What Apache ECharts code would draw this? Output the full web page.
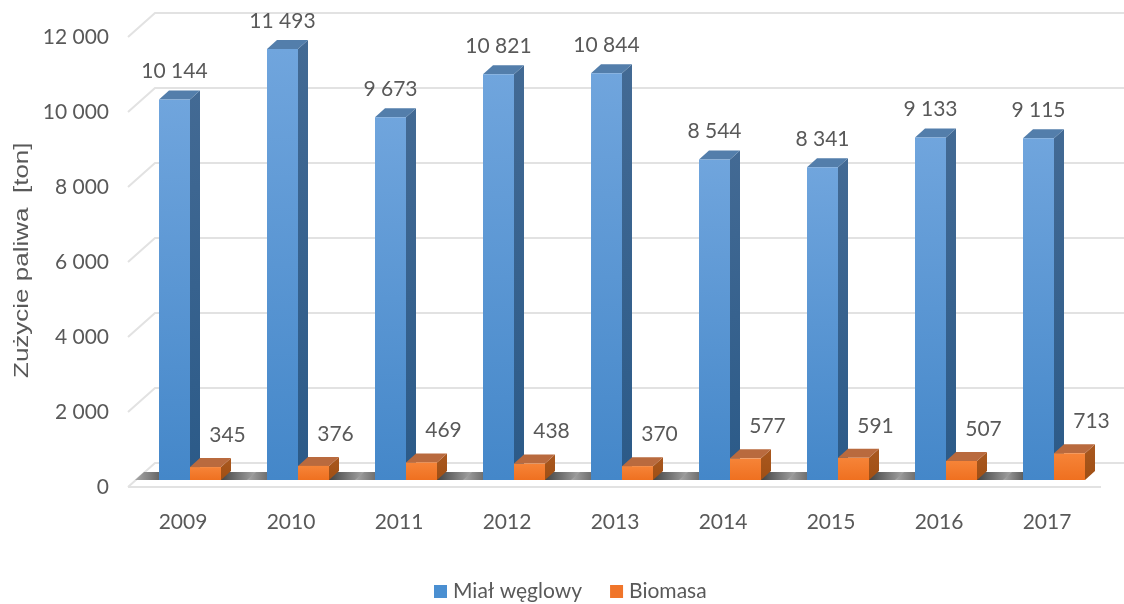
<!DOCTYPE html>
<html>
<head>
<meta charset="utf-8">
<style>
html, body { margin: 0; padding: 0; background: #fff; }
#chart { width: 1124px; height: 604px; }
</style>
<script src="https://cdn.jsdelivr.net/npm/echarts@6/dist/echarts.min.js"></script>
</head>
<body>
<div id="chart"></div>
<script>
const years = ['2009', '2010', '2011', '2012', '2013', '2014', '2015', '2016', '2017'];
const coal = [10144, 11493, 9673, 10821, 10844, 8544, 8341, 9133, 9115];
const biomass = [345, 376, 469, 438, 370, 577, 591, 507, 713];
const yTicks = [0, 2000, 4000, 6000, 8000, 10000, 12000];

const FONT = 'Lato, "Noto Sans", sans-serif';
const TEXT = '#595959';

function fmt(v) {
    return String(v).replace(/\B(?=(\d{3})+$)/g, ' ');
}

function vGrad(a, b) {
    return new echarts.graphic.LinearGradient(0, 0, 0, 1, [
        { offset: 0, color: a },
        { offset: 1, color: b }
    ]);
}

// skewed grid lines, floor included
function renderGridLine(params, api) {
    const r = params.coordSys;
    const y = api.coord([0, api.value(0)])[1];
    const left = r.x - 1;
    const right = r.x + r.width;
    const style = { stroke: '#e2e2e2', lineWidth: 2, fill: null };
    const children = [{
        type: 'polyline',
        shape: { points: [[left, y], [left + 27, y - 24], [right + 27, y - 24]] },
        style: style
    }];
    if (api.value(0) === 0) {
        children.push({
            type: 'line',
            shape: { x1: left, y1: y, x2: right, y2: y },
            style: style
        });
    }
    return { type: 'group', children: children };
}

// dark shadow under the bars
function renderFloor(params, api) {
    const i = api.value(0);
    const c = api.coord([i, 0]);
    const y = c[1] - 7;
    let x0 = c[0] - 44;
    let x1 = c[0] + 65;
    if (i === 0) x0 = c[0] - 48;
    if (i === years.length - 1) x1 = c[0] + 37;
    return {
        type: 'polygon',
        shape: { points: [[x0, y], [x1, y], [x1 + 9, y - 8], [x0 + 9, y - 8]] },
        style: {
            fill: new echarts.graphic.LinearGradient(0, 0, 1, 0, [
                { offset: 0, color: '#a8a8a8' },
                { offset: 0.3, color: '#454545' },
                { offset: 0.7, color: '#454545' },
                { offset: 1, color: '#a8a8a8' }
            ])
        }
    };
}

function makeBar(shift, colors, labelDx, labelDy) {
    return function (params, api) {
        const top = api.coord([api.value(0), api.value(1)]);
        const base = api.coord([api.value(0), 0]);
        const w = 31, dx = 10, dy = 9;
        const x = base[0] + shift;
        const y0 = base[1] - 7;
        const y1 = top[1] - 7;
        return {
            type: 'group',
            children: [
                {
                    type: 'polygon',
                    shape: { points: [[x + w, y0], [x + w, y1], [x + w + dx, y1 - dy], [x + w + dx, y0 - dy]] },
                    style: { fill: vGrad(colors.side[0], colors.side[1]) }
                },
                {
                    type: 'polygon',
                    shape: { points: [[x, y1], [x + w, y1], [x + w + dx, y1 - dy], [x + dx, y1 - dy]] },
                    style: { fill: colors.top }
                },
                {
                    type: 'rect',
                    shape: { x: x, y: y1, width: w, height: y0 - y1 },
                    style: { fill: vGrad(colors.front[0], colors.front[1]) }
                },
                {
                    type: 'text',
                    style: {
                        text: fmt(api.value(1)),
                        x: x + w / 2 + labelDx,
                        y: y1 - dy + labelDy,
                        align: 'center',
                        verticalAlign: 'middle',
                        fill: TEXT,
                        font: '21px ' + FONT
                    }
                }
            ]
        };
    };
}

const chart = echarts.init(document.getElementById('chart'));
chart.setOption({
    backgroundColor: '#fff',
    animation: false,
    grid: { left: 129, right: 23, top: 37, bottom: 117 },
    legend: {
        data: ['Miał węglowy', 'Biomasa'],
        left: 429,
        top: 576,
        icon: 'rect',
        itemWidth: 13,
        itemHeight: 13,
        itemGap: 28,
        textStyle: { color: TEXT, fontSize: 21, fontFamily: FONT, padding: [0, 0, 0, 1] }
    },
    xAxis: {
        type: 'category',
        data: years,
        axisLine: { show: false },
        axisTick: { show: false },
        axisLabel: { color: TEXT, fontSize: 21, fontFamily: FONT, margin: 25 }
    },
    yAxis: {
        type: 'value',
        min: 0,
        max: 12000,
        interval: 2000,
        axisLine: { show: false },
        axisTick: { show: false },
        splitLine: { show: false },
        axisLabel: { color: TEXT, fontSize: 21, fontFamily: FONT, margin: 20, padding: [2, 0, 0, 0], formatter: fmt }
    },
    graphic: [{
        type: 'text',
        x: 12,
        y: 378,
        rotation: Math.PI / 2,
        scaleX: 1.3,
        style: {
            text: 'Zużycie paliwa  [ton]',
            fill: TEXT,
            font: '20px "Liberation Sans", sans-serif',
            verticalAlign: 'top'
        }
    }],
    series: [
        {
            type: 'custom',
            silent: true,
            data: yTicks.map(v => [v]),
            encode: { y: 0 },
            renderItem: renderGridLine,
            z: 1
        },
        {
            type: 'custom',
            silent: true,
            data: years.map((y, i) => [i]),
            encode: { x: 0 },
            renderItem: renderFloor,
            z: 2
        },
        {
            name: 'Miał węglowy',
            type: 'custom',
            itemStyle: { color: '#4a8fd1' },
            data: coal.map((v, i) => [i, v]),
            encode: { x: 0, y: 1 },
            renderItem: makeBar(-24, {
                front: ['#70a5dd', '#4487c9'],
                side: ['#436a94', '#2b5a88'],
                top: '#537eab'
            }, 0, -19),
            z: 3
        },
        {
            name: 'Biomasa',
            type: 'custom',
            itemStyle: { color: '#f0752a' },
            data: biomass.map((v, i) => [i, v]),
            encode: { x: 0, y: 1 },
            renderItem: makeBar(7, {
                front: ['#f68438', '#ef7020'],
                side: ['#a9581f', '#a04f14'],
                top: '#b96a3e'
            }, 22, -23),
            z: 4
        }
    ]
});
</script>
</body>
</html>
